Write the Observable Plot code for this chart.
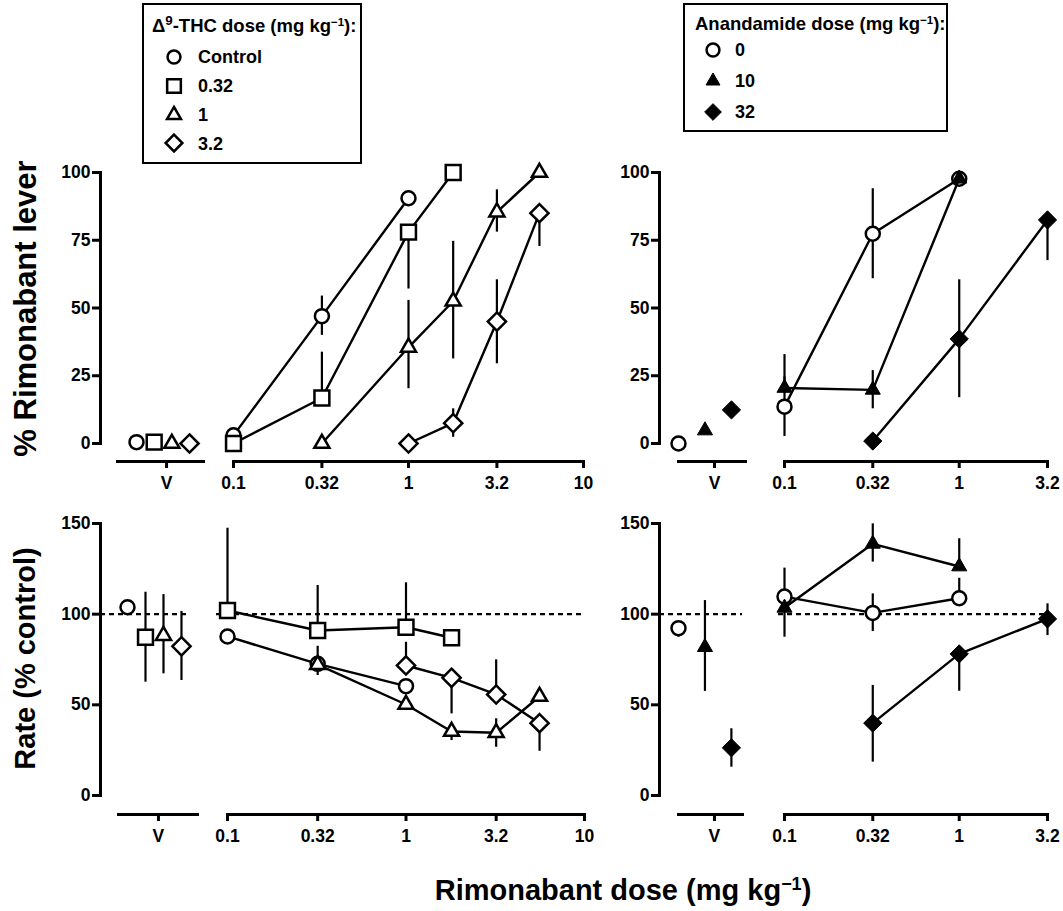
<!DOCTYPE html>
<html>
<head>
<meta charset="utf-8">
<script src="https://cdn.jsdelivr.net/npm/d3@7"></script>
<script src="https://cdn.jsdelivr.net/npm/@observablehq/plot@0.6"></script>
<style>
  body { margin: 0; background: #fff; }
  #chart { position: relative; width: 1063px; height: 911px; overflow: hidden;
           font-family: "Liberation Sans", Arial, Helvetica, sans-serif; font-weight: bold; color: #000; }
  #chart > svg { position: absolute; left: 0; top: 0; }
  .txt { position: absolute; white-space: nowrap; }
  .txt sup { font-size: 0.62em; line-height: 0; vertical-align: 0.55em; }
  .txt sup.big { font-size: 0.72em; vertical-align: 0.5em; }
  .box { position: absolute; border: 2.5px solid #000; box-sizing: border-box; }
  .sym { position: absolute; overflow: visible; }
</style>
</head>
<body>
<div id="chart"></div>
<script>
// ---------------- DATA ----------------
// Rows: [rimonabant dose, mean, error low, error high]  (null = no bar on that side)
// Vehicle rows: [mean, error low, error high] in legend order

// Δ9-THC groups
const thcGroups = ["Control", "0.32", "1", "3.2"];
// % Rimonabant lever, Δ9-THC
const leverThcVehicle = [[0.5, null, null], [0.5, null, null], [0, null, null], [0, null, null]];
const leverThcControl = [[0.1, 3, null, null], [0.32, 47, 39.9, 54.4], [1, 90.5, null, null]];
const leverThc032 = [[0.1, 0, null, null], [0.32, 16.8, null, 33.7], [1, 78, 57, null], [1.8, 100, null, null]];
const leverThc1 = [[0.32, 0, null, null], [1, 35.5, 20.2, 52.8], [1.8, 52.5, 31.2, 74.6], [3.2, 85.4, 78, 93.6], [5.6, 100, null, null]];
const leverThc32 = [[1, 0, null, null], [1.8, 7.5, 2.3, 12.8], [3.2, 45, 29.4, 60.4], [5.6, 85, 72.7, null]];
// Rate (% control), Δ9-THC
const rateThcVehicle = [[103.8, null, null], [87.3, 62.5, 112.1], [88.2, 67.1, 110.8], [82.3, 63.4, 101.5]];
const rateThcControl = [[0.1, 87.7, null, null], [0.32, 72.6, null, null], [1, 60.3, null, null]];
const rateThc032 = [[0.1, 102, null, 147.4], [0.32, 91, null, 115.8], [1, 92.8, null, 117.3], [1.8, 87, null, null]];
const rateThc1 = [[0.32, 72.2, 66.2, 82.3], [1, 50.2, null, null], [1.8, 35.3, 30.3, null], [3.2, 34.6, 26.6, 42.3], [5.6, 54.6, null, null]];
const rateThc32 = [[1, 71.7, null, 84.5], [1.8, 64.9, 45, null], [3.2, 55.7, null, 74.8], [5.6, 39.9, 24.4, null]];

// Anandamide groups
const aeaGroups = ["0", "10", "32"];
// % Rimonabant lever, anandamide
const leverAeaVehicle = [[0, null, null], [4.8, null, null], [12.4, null, null]];
const leverAea0 = [[0.1, 13.6, 2.6, 24.6], [0.32, 77.4, 60.8, 94], [1, 97.7, null, null]];
const leverAea10 = [[0.1, 20.5, null, 32.8], [0.32, 19.8, 12.8, 26.9], [1, 97.7, null, null]];
const leverAea32 = [[0.32, 0.9, null, null], [1, 38.6, 16.9, 60.4], [3.2, 82.5, 67.5, null]];
// Rate (% control), anandamide
const rateAeaVehicle = [[92.3, 87.3, null], [81.8, 57.4, 107.5], [26.3, 15.6, 36.8]];
const rateAea0 = [[0.1, 109.7, null, 125.4], [0.32, 100.7, 90.4, 111.2], [1, 108.8, null, 119.8]];
const rateAea10 = [[0.1, 103.5, 87.3, null], [0.32, 138.8, 128.7, 149.8], [1, 126.3, null, 141.6]];
const rateAea32 = [[0.32, 39.9, 18.4, 60.7], [1, 78.1, 57.5, null], [3.2, 97.4, 88.2, 105.7]];

// Axis ticks
const leverTicks = [0, 25, 50, 75, 100];
const rateTicks = [0, 50, 100, 150];
const thcDoseTicks = [0.1, 0.32, 1, 3.2, 10];
const aeaDoseTicks = [0.1, 0.32, 1, 3.2];
const vehicleTickLabel = "V";

// ---------------- STYLE / LAYOUT ----------------
const W = 1063, H = 911;
const FONT = "'Liberation Sans', Arial, Helvetica, sans-serif";
const AXW = 3;      // axis stroke
const LW = 2.4;     // data line stroke
const SYM = {
  circleOpen:   {symbol: d3.symbolCircle,   r: 7,   fill: "white", sw: 2.5},
  squareOpen:   {symbol: d3.symbolSquare,   r: 8.4, fill: "white", sw: 2.5},
  triangleOpen: {symbol: d3.symbolTriangle, r: 5.6, fill: "white", sw: 2.5},
  diamondOpen:  {symbol: d3.symbolDiamond2, r: 8.2, fill: "white", sw: 2.5},
  triangleFill: {symbol: d3.symbolTriangle, r: 5.6, fill: "black", sw: 1},
  diamondFill:  {symbol: d3.symbolDiamond2, r: 8.2, fill: "black", sw: 1}
};
const thcSyms = [SYM.circleOpen, SYM.squareOpen, SYM.triangleOpen, SYM.diamondOpen];
const aeaSyms = [SYM.circleOpen, SYM.triangleFill, SYM.diamondFill];

const ROWS = {
  lever: {yTop: 172, yZero: 443, axisLine: 461, domain: [0, 100], ticks: leverTicks},
  rate:  {yTop: 523, yZero: 795, axisLine: 814, domain: [0, 150], ticks: rateTicks}
};

const toPts = rows => rows.map(([dose, mean, lo, hi]) => ({dose, mean, lo, hi}));
const toVeh = rows => rows.map(([mean, lo, hi], i) => ({i, mean, lo, hi}));

function base(o) {
  return Object.assign({
    width: W, height: H,
    style: {position: "absolute", left: "0px", top: "0px", background: "transparent",
            overflow: "visible", fontFamily: FONT, fontSize: "17px", fontWeight: "bold", color: "black"}
  }, o);
}
const axisText = {fontSize: 17.5, fontWeight: "bold", fontFamily: FONT};

function dotMark(data, x, sym) {
  return Plot.dot(data, {x, y: "mean", symbol: sym.symbol, r: sym.r, fill: sym.fill,
                         stroke: "black", strokeWidth: sym.sw});
}
function errMark(data, x) {
  return Plot.ruleX(data.filter(d => d.lo != null || d.hi != null),
    {x, y1: d => d.lo ?? d.mean, y2: d => d.hi ?? d.mean, stroke: "black", strokeWidth: 2.2});
}
function dashMark(insets) {
  return Plot.ruleY([100], {stroke: "black", strokeWidth: 2.4, strokeDasharray: "5,4",
    insetLeft: insets[0], insetRight: insets[1]});
}

function panel(cfg) {
  const R = ROWS[cfg.row];
  const out = [];
  // y axis
  out.push(Plot.plot(base({
    marginLeft: cfg.axisX, marginRight: W - cfg.axisX - 1,
    marginTop: R.yTop, marginBottom: H - R.yZero,
    y: {domain: R.domain},
    marks: [
      Plot.axisY({ticks: R.ticks, tickSize: 8, tickPadding: 2, strokeWidth: AXW, label: null, ...axisText}),
      Plot.frame({anchor: "left", strokeWidth: AXW})
    ]
  })));
  // vehicle sub-axis
  const veh = toVeh(cfg.vehicle);
  const vm = [];
  if (cfg.dashed) vm.push(dashMark(cfg.dashed.veh));
  vm.push(Plot.frame({anchor: "bottom", strokeWidth: AXW}));
  vm.push(Plot.axisX({ticks: [cfg.veh.tick], tickFormat: () => vehicleTickLabel, tickSize: 7,
                      tickPadding: 8, strokeWidth: AXW, label: null, ...axisText}));
  veh.forEach((d, k) => {
    vm.push(errMark([d], "i"));
    vm.push(dotMark([d], "i", cfg.syms[k]));
  });
  out.push(Plot.plot(base({
    marginLeft: cfg.veh.left, marginRight: W - cfg.veh.right,
    marginTop: R.yTop, marginBottom: H - R.axisLine,
    insetBottom: R.axisLine - R.yZero,
    x: {domain: cfg.veh.domain},
    y: {domain: R.domain, axis: null},
    marks: vm
  })));
  // log dose sub-axis
  const lm = [];
  if (cfg.dashed) lm.push(dashMark(cfg.dashed.log));
  lm.push(Plot.frame({anchor: "bottom", strokeWidth: AXW}));
  lm.push(Plot.axisX({ticks: cfg.log.ticks, tickFormat: d => String(d), tickSize: 7,
                      tickPadding: 8, strokeWidth: AXW, label: null, ...axisText}));
  cfg.series.forEach((rows, k) => {
    const pts = toPts(rows);
    lm.push(errMark(pts, "dose"));
    lm.push(Plot.line(pts, {x: "dose", y: "mean", stroke: "black", strokeWidth: LW}));
    lm.push(dotMark(pts, "dose", cfg.syms[k]));
  });
  out.push(Plot.plot(base({
    marginLeft: cfg.log.left, marginRight: W - cfg.log.right,
    marginTop: R.yTop, marginBottom: H - R.axisLine,
    insetBottom: R.axisLine - R.yZero,
    x: {type: "log", domain: [cfg.log.ticks[0], cfg.log.ticks[cfg.log.ticks.length - 1]]},
    y: {domain: R.domain, axis: null},
    marks: lm
  })));
  return out;
}

const chart = document.getElementById("chart");
const panels = [
  {row: "lever", axisX: 100, syms: thcSyms, vehicle: leverThcVehicle,
   veh: {left: 117, right: 203, domain: [-1.075, 3.79], tick: 1.70},
   log: {left: 233, right: 583, ticks: thcDoseTicks},
   series: [leverThcControl, leverThc032, leverThc1, leverThc32]},
  {row: "rate", axisX: 100, syms: thcSyms, vehicle: rateThcVehicle,
   veh: {left: 118, right: 197, domain: [-0.5, 3.89], tick: 1.72},
   log: {left: 227, right: 584, ticks: thcDoseTicks},
   dashed: {veh: [-18, 7], log: [-11, 0]},
   series: [rateThcControl, rateThc032, rateThc1, rateThc32]},
  {row: "lever", axisX: 659, syms: aeaSyms, vehicle: leverAeaVehicle,
   veh: {left: 678, right: 745, domain: [0, 2.53], tick: 1.36},
   log: {left: 784, right: 1047, ticks: aeaDoseTicks},
   series: [leverAea0, leverAea10, leverAea32]},
  {row: "rate", axisX: 659, syms: aeaSyms, vehicle: rateAeaVehicle,
   veh: {left: 678, right: 742, domain: [0, 2.42], tick: 1.36},
   log: {left: 784, right: 1047, ticks: aeaDoseTicks},
   dashed: {veh: [-19, 0], log: [-6, 0]},
   series: [rateAea0, rateAea10, rateAea32]}
];
panels.forEach(p => panel(p).forEach(svg => chart.appendChild(svg)));

// ---------------- TEXT ----------------
function addText(html, left, top, size, extra = {}) {
  const d = document.createElement("div");
  d.className = "txt";
  d.innerHTML = html;
  Object.assign(d.style, {left: left + "px", top: top + "px", fontSize: size + "px", lineHeight: size + "px"}, extra);
  chart.appendChild(d);
  return d;
}
function addRotated(html, cx, cy, size) {
  const w = 420;
  addText(html, cx - w / 2, cy - size / 2, size,
    {width: w + "px", textAlign: "center", transform: "rotate(-90deg)", transformOrigin: "50% 50%"});
}
addRotated("% Rimonabant lever", 25, 308, 31);
addRotated("Rate (% control)", 25, 658, 29);
addText("Rimonabant dose (mg kg<sup>−1</sup>)", 623 - 300, 875.5, 29, {width: "600px", textAlign: "center"});

// ---------------- LEGENDS ----------------
function addBox(left, top, w, h) {
  const b = document.createElement("div");
  b.className = "box";
  Object.assign(b.style, {left: left + "px", top: top + "px", width: w + "px", height: h + "px"});
  chart.appendChild(b);
}
function addSymbol(sym, cx, cy, scale) {
  const s = 24;
  const svg = d3.create("svg").attr("class", "sym").attr("width", s).attr("height", s)
    .style("left", (cx - s / 2) + "px").style("top", (cy - s / 2) + "px");
  const r = sym.r * scale;
  svg.append("path").attr("transform", `translate(${s / 2},${s / 2})`)
    .attr("d", d3.symbol(sym.symbol, Math.PI * r * r)())
    .attr("fill", sym.fill).attr("stroke", "black").attr("stroke-width", sym.sw);
  chart.appendChild(svg.node());
}
function legend(cfg) {
  addBox(cfg.left, cfg.top, cfg.w, cfg.h);
  addText(cfg.title, cfg.titleLeft, cfg.titleTop, 18.5);
  cfg.labels.forEach((lab, i) => {
    const cy = cfg.row0 + i * cfg.step;
    addSymbol(cfg.syms[i], cfg.symX, cy, 0.92);
    addText(lab, cfg.labelLeft, cy - 8.8, 18);
  });
}
legend({left: 142, top: 3, w: 220, h: 161, title: "Δ<sup class=\"big\">9</sup>-THC dose (mg kg<sup>−1</sup>):",
        titleLeft: 152, titleTop: 17.3, labels: thcGroups, syms: thcSyms,
        row0: 57, step: 28.8, symX: 174, labelLeft: 198});
legend({left: 683, top: 3, w: 265, h: 129, title: "Anandamide dose (mg kg<sup>−1</sup>):",
        titleLeft: 695, titleTop: 15.3, labels: aeaGroups, syms: aeaSyms,
        row0: 50, step: 31, symX: 713, labelLeft: 735});
</script>
</body>
</html>
